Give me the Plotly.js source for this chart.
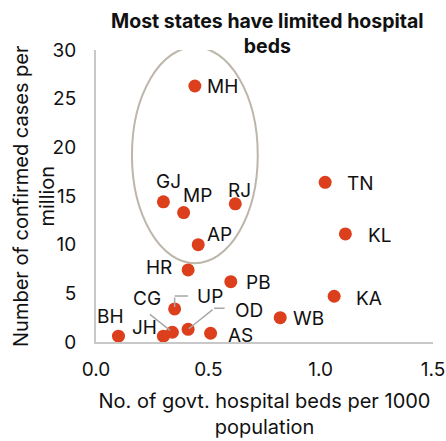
<!DOCTYPE html>
<html><head><meta charset="utf-8">
<script src="https://cdn.plot.ly/plotly-3.0.1.min.js"></script>
<style>html,body{margin:0;padding:0;background:#fff}#c{width:446px;height:441px}</style>
</head><body><div id="c"></div>
<script>
const states = ["MH","GJ","MP","RJ","AP","HR","PB","UP","CG","BH","JH","OD","AS","TN","KL","KA","WB"];
const beds   = [0.44, 0.30, 0.39, 0.62, 0.455, 0.41, 0.60, 0.35, 0.34, 0.10, 0.30, 0.41, 0.51, 1.02, 1.11, 1.06, 0.82];
const cases  = [26.3, 14.4, 13.3, 14.2, 10.0, 7.4, 6.2, 3.4, 1.0, 0.6, 0.6, 1.3, 0.9, 16.4, 11.1, 4.7, 2.5];
const xTicks = [0, 0.5, 1.0, 1.5];
const xTickText = ["0.0","0.5","1.0","1.5"];
const yTicks = [0, 5, 10, 15, 20, 25, 30];
const titleText = "Most states have limited hospital<br>beds";
const yTitleText = "Number of confirmed cases per<br>million";

// label offsets in pixels (dx right, dy down)
const labelOffsets = {
  MH:[28,0], GJ:[5,-20], MP:[14,-17], RJ:[4,-13], AP:[21,-10], HR:[-29,-2], PB:[28,1],
  UP:[35,-12], CG:[-25,-34], BH:[-8,-20], JH:[-19,-9], OD:[61,-19], AS:[30,2],
  TN:[35,1], KL:[35,2], KA:[35,2], WB:[28,1]
};
// leader line segments: [shiftX, shiftY(down), ax, ay, standoff]
const leaders = {
  CG:[[0,0,-24,-19,3]],
  UP:[[0,0,0,-13,2],[0,-13,15,0,0]],
  OD:[[0,0,26,-21,1],[26,-21,12,0,0]]
};

const font = "Inter, Liberation Sans, sans-serif";
const annotations = [];
states.forEach((s,i)=>{
  const o = labelOffsets[s];
  annotations.push({x:beds[i], y:cases[i], xref:'x', yref:'y', text:s, showarrow:false,
    xshift:o[0], yshift:-o[1], font:{family:font, size:19, color:'#111'}});
  (leaders[s]||[]).forEach(L=>{
    annotations.push({x:beds[i], y:cases[i], xref:'x', yref:'y', text:'', showarrow:true,
      arrowhead:0, arrowwidth:1.5, arrowcolor:'#a8a8a8', xshift:L[0], yshift:-L[1],
      ax:L[2], ay:L[3], standoff:L[4]});
  });
});
annotations.push({xref:'paper', yref:'paper', x:0.5, y:1, xanchor:'center', yanchor:'middle', yshift:17, xshift:3,
  text:'<b>'+titleText+'</b>', showarrow:false, font:{family:font, size:19.5, color:'#111'}});
annotations.push({xref:'paper', yref:'paper', x:0, y:0.5, xanchor:'center', yanchor:'middle', xshift:-62,
  textangle:-90, text:yTitleText, showarrow:false, font:{family:font, size:20, color:'#111'}});

const trace = {x:beds, y:cases, text:states, mode:'markers', type:'scatter',
  marker:{size:13, color:'#dc3f1c'}, hoverinfo:'text+x+y', cliponaxis:false};

const layout = {
  width:446, height:441,
  margin:{l:96, r:13, t:50, b:99},
  paper_bgcolor:'#fff', plot_bgcolor:'#fff',
  showlegend:false,
  font:{family:font, size:19, color:'#111'},
  xaxis:{range:[0,1.5], tickvals:xTicks, ticktext:xTickText, showgrid:false, zeroline:false,
    showline:true, linecolor:'#c8c8c8', linewidth:2, ticks:'', ticklabelstandoff:9,
    tickfont:{size:19}, title:{text:'No. of govt. hospital beds per 1000<br>population', standoff:14, font:{size:20}}},
  yaxis:{range:[0,30], tickvals:yTicks, showgrid:false, zeroline:false,
    showline:true, linecolor:'#c8c8c8', linewidth:2, ticks:'', ticklabelstandoff:14,
    tickfont:{size:19}},
  shapes:[{type:'circle', xref:'x', yref:'y', x0:0.16, x1:0.72, y0:8.1, y1:30.3,
    line:{color:'#bdb6ab', width:2}, layer:'below'}],
  annotations:annotations
};
Plotly.newPlot('c',[trace],layout,{displayModeBar:false,staticPlot:true});
</script></body></html>
